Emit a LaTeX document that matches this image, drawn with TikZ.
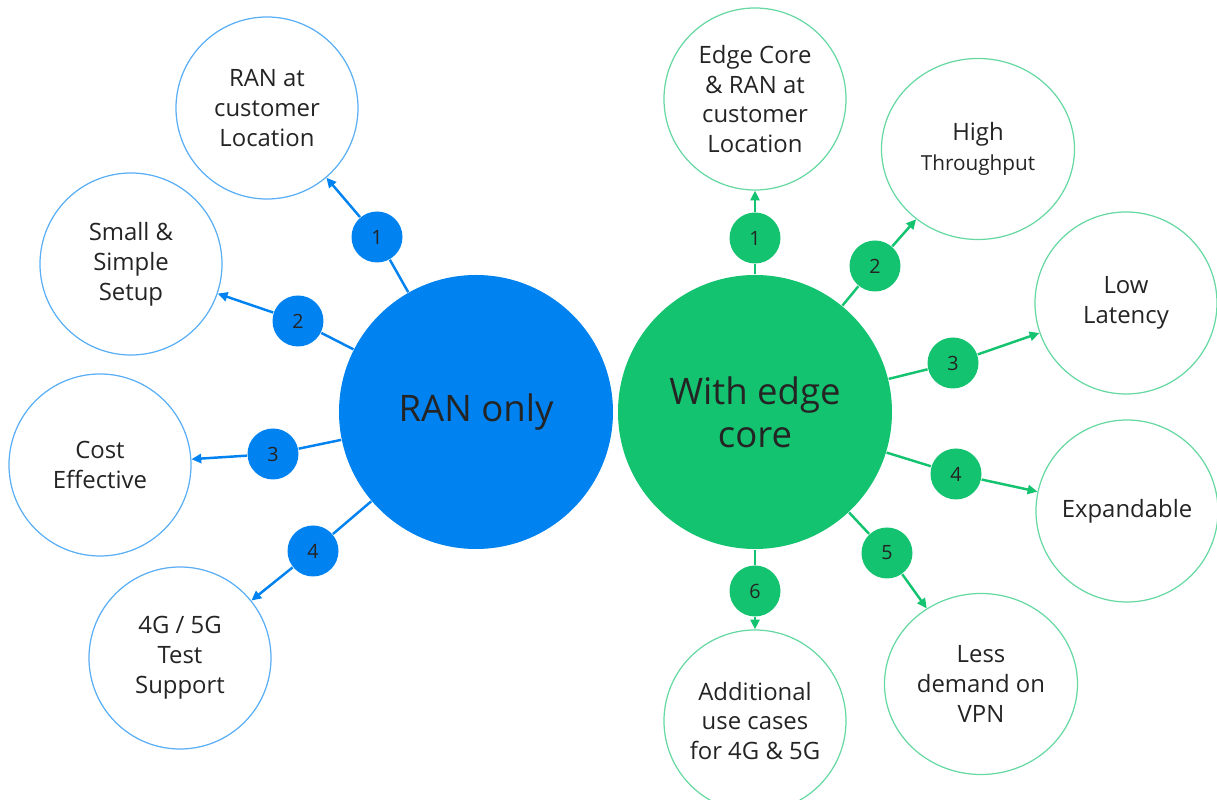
\documentclass[tikz,border=0pt]{standalone}
\usepackage{fontspec}
\setmainfont{Open Sans}
\usetikzlibrary{arrows.meta,shapes.geometric}

\definecolor{ranblue}{HTML}{0082F0}
\definecolor{edgegreen}{HTML}{14C370}
\definecolor{txt}{HTML}{242424}

\tikzset{
  hub/.style={circle,minimum size=2.74cm,inner sep=0pt,align=center,text=txt,font=\fontsize{10.4}{12.2}\selectfont},
  leaf/.style={circle,draw,line width=0.35pt,minimum size=1.82cm,inner sep=0pt,align=center,text=txt,font=\fontsize{6.8}{8.5}\selectfont},
  wideleaf/.style={leaf,ellipse,minimum width=1.93cm,minimum height=1.81cm},
  num/.style={circle,minimum size=0.51cm,inner sep=0pt,text=txt,font=\fontsize{5.6}{6}\selectfont},
  link/.style={line width=0.7pt},
  arr/.style={link,-{Triangle[length=2.8pt,width=2.6pt]}}
}

\begin{document}
\begin{tikzpicture}[x=1cm,y=-1cm]
  \useasboundingbox (0,0) rectangle (12.17,8.00);

  % the two hubs
  \node[hub,fill=ranblue] (ran) at (4.76,4.12) {RAN only};
  \node[hub,fill=edgegreen] (edge) at (7.55,4.12) {With edge\\core};

  % RAN only bubbles
  \node[leaf,draw=ranblue!65] (rl1) at (2.67,1.08) {RAN at\\customer\\Location};
  \node[leaf,draw=ranblue!65] (rl2) at (1.31,2.64) {Small \&\\Simple\\Setup};
  \node[leaf,draw=ranblue!65] (rl3) at (1.00,4.65) {Cost\\Effective};
  \node[leaf,draw=ranblue!65] (rl4) at (1.80,6.58) {4G / 5G\\Test\\Support};

  % edge core bubbles
  \node[leaf,draw=edgegreen!65] (el1) at (7.55,0.99) {Edge Core\\\& RAN at\\customer\\Location};
  \node[wideleaf,draw=edgegreen!65] (el2) at (9.78,1.49) {High\\{\fontsize{5.9}{7.6}\selectfont Throughput}};
  \node[leaf,draw=edgegreen!65] (el3) at (11.26,3.03) {Low\\Latency};
  \node[leaf,draw=edgegreen!65] (el4) at (11.27,5.11) {Expandable};
  \node[wideleaf,draw=edgegreen!65] (el5) at (9.81,6.84) {Less\\demand on\\VPN};
  \node[leaf,draw=edgegreen!65] (el6) at (7.55,7.21) {Additional\\use cases\\for 4G \& 5G};

  % numbered dots
  \foreach \i/\x/\y in {1/3.77/2.37,2/2.98/3.21,3/2.73/4.54,4/3.13/5.51}
    \node[num,fill=ranblue] (rn\i) at (\x,\y) {\i};
  \foreach \i/\x/\y in {1/7.55/2.38,2/8.75/2.66,3/9.53/3.63,4/9.56/4.74,5/8.87/5.53,6/7.55/5.91}
    \node[num,fill=edgegreen] (en\i) at (\x,\y) {\i};

  % connectors
  \foreach \i in {1,...,4} {
    \draw[link,ranblue] (ran) -- (rn\i);
    \draw[arr,ranblue] (rn\i) -- (rl\i);
  }
  \foreach \i in {1,...,6} {
    \draw[link,edgegreen] (edge) -- (en\i);
    \draw[arr,edgegreen] (en\i) -- (el\i);
  }

\end{tikzpicture}
\end{document}
